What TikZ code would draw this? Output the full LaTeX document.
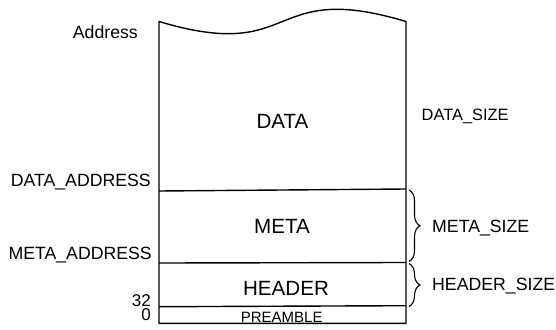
\documentclass[tikz,border=0pt]{standalone}
\usepackage{fontspec}
\setmainfont{Liberation Sans}
\usetikzlibrary{decorations.pathreplacing}
\begin{document}
\begin{tikzpicture}[x=1pt,y=-1pt,
  box/.style={line width=1.4pt, line join=round},
  sep/.style={line width=1.4pt},
  lab/.style={font=\fontsize{17.7}{20}\selectfont, inner sep=0pt},
  num/.style={font=\fontsize{17}{20}\selectfont, inner sep=0pt},
  dsz/.style={font=\fontsize{16.4}{20}\selectfont, inner sep=0pt},
  big/.style={font=\fontsize{20.6}{24}\selectfont, inner sep=0pt},
  small/.style={font=\fontsize{15}{18}\selectfont, inner sep=0pt},
  brc/.style={line width=1.1pt, decorate, decoration={brace, amplitude=11pt, aspect=0.5}}]
\useasboundingbox (0,0) rectangle (556,329);
% outline
\coordinate (tl) at (159,21.5);
\coordinate (tr) at (406,21.5);
\coordinate (bl) at (159,323.3);
\coordinate (br) at (406,323.3);
\draw[box] (bl) -- (tl) .. controls (300,63.8) and (265,-20.8) .. (tr) -- (br) -- cycle;
% separators
\coordinate (dml) at (159,191);   \coordinate (dmr) at (406,189);
\coordinate (mhl) at (159,263);   \coordinate (mhr) at (406,262.5);
\coordinate (hpl) at (159,306.7); \coordinate (hpr) at (406,305.7);
\draw[sep] (dml) -- (dmr);
\draw[sep] (mhl) -- (mhr);
\draw[sep] (hpl) -- (hpr);
% region labels
\node[big, anchor=base] (data) at (282.5,128) {DATA};
\node[big, anchor=base] (meta) at (282,233.3) {META};
\node[big, anchor=base] (header) at (286,295) {HEADER};
\node[small, anchor=base] (preamble) at (281.7,322.6) {PREAMBLE};
\draw[sep] (bl) -- (br);
% left labels
\node[lab, anchor=base east] (addr) at (138,39) {Address};
\node[lab, anchor=base east] (daddr) at (151,186.7) {DATA\_ADDRESS};
\node[lab, anchor=base east] (maddr) at (152,259.3) {META\_ADDRESS};
\node[num, anchor=base east] (n32) at (151,306.5) {32};
\node[num, anchor=base east] (n0) at (151,320.7) {0};
% right labels
\node[dsz, anchor=base west] (dsize) at (421.5,120) {DATA\_SIZE};
\node[lab, anchor=base west] (msize) at (432,232.7) {META\_SIZE};
\node[lab, anchor=base west] (hsize) at (432,290) {HEADER\_SIZE};
% braces
\coordinate (mbt) at (409,190);   \coordinate (mbb) at (409,261.5);
\coordinate (hbt) at (409,263.5); \coordinate (hbb) at (409,306.5);
\draw[brc] (mbt) -- (mbb);
\draw[brc] (hbt) -- (hbb);
\end{tikzpicture}
\end{document}
